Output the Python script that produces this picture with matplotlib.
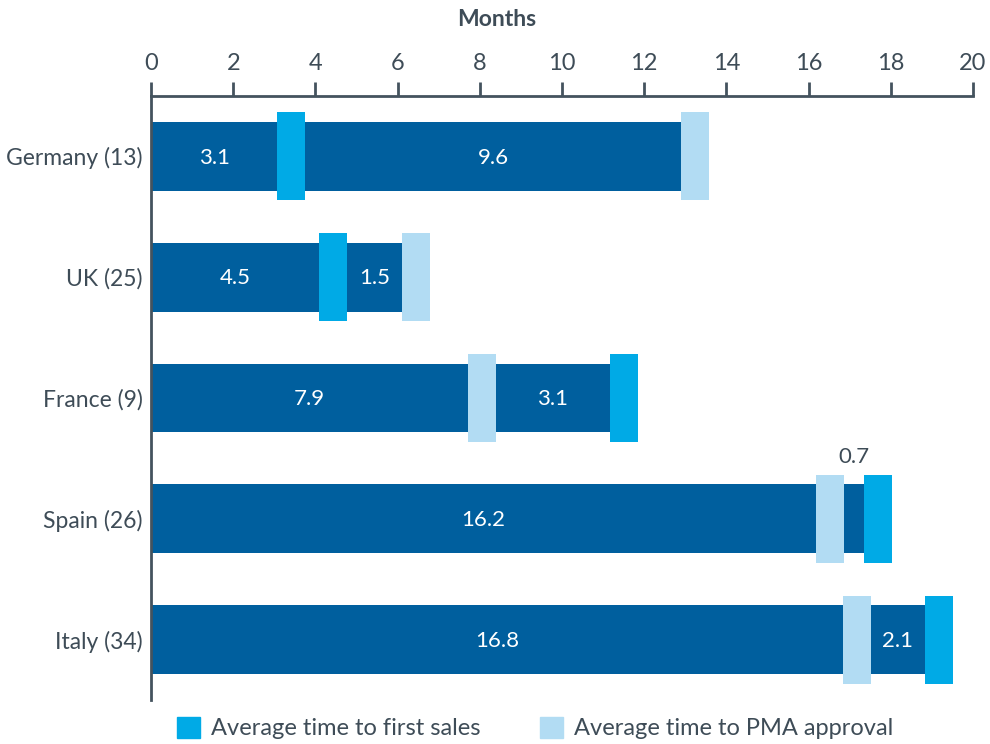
import matplotlib
matplotlib.use("Agg")
import matplotlib.pyplot as plt
from matplotlib.patches import Patch

# ---- data ----
countries = ["Germany (13)", "UK (25)", "France (9)", "Spain (26)", "Italy (34)"]
first_interval = [3.1, 4.5, 7.9, 16.2, 16.8]      # label of first segment (months)
second_interval = [9.6, 1.5, 3.1, 0.7, 2.1]       # label of second segment (months)
first_milestone = ["sales", "sales", "pma", "pma", "pma"]
# drawn milestone positions (months)
first_marker_at = [3.07, 4.09, 7.71, 16.18, 16.84]
second_marker_at = [12.90, 6.11, 11.17, 17.35, 18.83]
xticks = [0, 2, 4, 6, 8, 10, 12, 14, 16, 18, 20]
legend_labels = ["Average time to first sales", "Average time to PMA approval"]

# ---- style ----
DARK = "#005f9e"
BRIGHT = "#00aae6"
LIGHT = "#b2dcf3"
AXC = "#44535e"
TXT = "#3e4c57"
FONT = ["Lato", "DejaVu Sans"]
plt.rcParams["font.family"] = FONT

colors = {"sales": BRIGHT, "pma": LIGHT}
other = {"sales": "pma", "pma": "sales"}
marker_w = 0.68
bar_h = 0.57
marker_h = 0.73

fig = plt.figure(figsize=(9.9, 7.44), dpi=100)
ax = fig.add_axes([151 / 990, 1 - 700 / 744, 822 / 990, 604 / 744])

y = list(range(len(countries)))
ax.barh(y, second_marker_at, height=bar_h, color=DARK, zorder=2)
for i in y:
    m1 = first_milestone[i]
    ax.barh(i, marker_w, left=first_marker_at[i], height=marker_h,
            color=colors[m1], zorder=3)
    ax.barh(i, marker_w, left=second_marker_at[i], height=marker_h,
            color=colors[other[m1]], zorder=3)
    # labels
    ax.text(first_marker_at[i] / 2, i + 0.01, f"{first_interval[i]:.1f}",
            ha="center", va="center", color="white", fontsize=16, zorder=4)
    s2 = first_marker_at[i] + marker_w
    w2 = second_marker_at[i] - s2
    if w2 < 1.0:
        ax.text(s2 + w2 / 2, i - marker_h / 2 - 0.06, f"{second_interval[i]:.1f}",
                ha="center", va="bottom", color=TXT, fontsize=16, zorder=4)
    else:
        ax.text(s2 + w2 / 2, i + 0.01, f"{second_interval[i]:.1f}",
                ha="center", va="center", color="white", fontsize=16, zorder=4)

ax.set_xlim(0, 20)
ax.set_ylim(len(countries) - 0.5, -0.5)
ax.set_yticks(y)
ax.set_yticklabels(countries)
ax.set_xticks(xticks)
ax.set_xticklabels([str(t) for t in xticks])
ax.xaxis.tick_top()
ax.tick_params(axis="x", direction="out", length=10, width=2, color=AXC,
               labelcolor=TXT, labelsize=17, pad=6)
ax.tick_params(axis="y", length=0, labelcolor=TXT, labelsize=16.5, pad=6)

for s in ["right", "bottom"]:
    ax.spines[s].set_visible(False)
for s in ["top", "left"]:
    ax.spines[s].set_color(AXC)
    ax.spines[s].set_linewidth(2)

fig.text(497 / 990, 1 - 20 / 744, "Months", ha="center", va="center",
         fontsize=16.5, fontweight="bold", color=TXT)

handles = [Patch(color=BRIGHT), Patch(color=LIGHT)]
fig.legend(handles, legend_labels, loc="center", ncol=2, frameon=False,
           bbox_to_anchor=(535 / 990, 1 - 728 / 744), fontsize=17,
           handlelength=1.0, handleheight=1.0, handletextpad=0.45,
           columnspacing=2.5, labelcolor=TXT)

fig.savefig("out.png", dpi=100)
